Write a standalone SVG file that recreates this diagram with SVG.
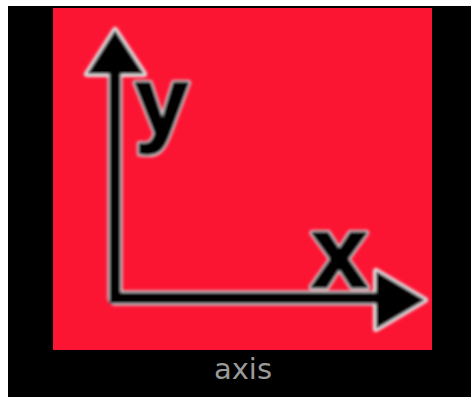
<svg xmlns="http://www.w3.org/2000/svg" width="471" height="397" viewBox="0 0 471 397">
<defs>
<style>
.glow{stroke:#e6e6e6;stroke-width:6;stroke-linejoin:round;paint-order:stroke}
.lbl{font-family:"Liberation Sans",Arial,sans-serif;font-weight:bold;fill:#000}
.ink{stroke:#000;stroke-width:3;stroke-linejoin:round}
</style>
<filter id="soft" x="-10%" y="-10%" width="120%" height="120%"><feGaussianBlur stdDeviation="1.4"/></filter>
</defs>
<rect x="0" y="0" width="471" height="397" fill="#ffffff"/>
<rect x="8" y="6" width="463" height="391" fill="#000000"/>
<rect x="53" y="8" width="379" height="342" fill="#fb1533"/>
<g id="art" filter="url(#soft)">
<g id="axes">
<path d="M115,74 V298 H378" fill="none" stroke="#d8d8d8" stroke-width="15" stroke-linejoin="round"/>
<polygon points="115,30 87,74 144,74" fill="#000" class="glow"/>
<polygon points="376,271 376,329 425,300" fill="#000" class="glow"/>
<path d="M115,74 V298 H378" fill="none" stroke="#000" stroke-width="11" stroke-linejoin="miter"/>
</g>
<g id="label-y">
<text class="lbl glow" x="135" y="134" font-size="96">y</text>
<text class="lbl ink" x="135" y="134" font-size="96">y</text>
</g>
<g id="label-x">
<text class="lbl glow" x="311" y="287" font-size="102">x</text>
<text class="lbl ink" x="311" y="287" font-size="102">x</text>
</g>
</g>
<text id="caption" x="243" y="379" text-anchor="middle" font-family="DejaVu Sans,Verdana,sans-serif" font-size="29" fill="#9a9a9a">axis</text>
</svg>
